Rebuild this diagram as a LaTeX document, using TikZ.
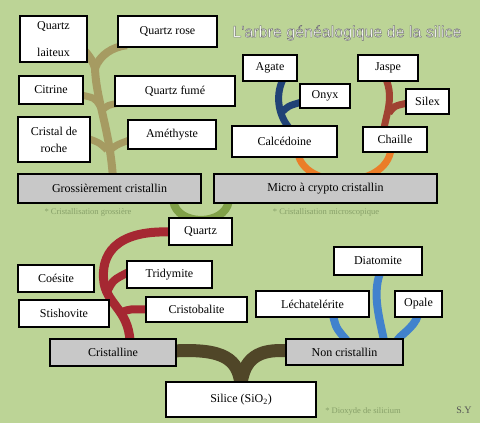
\documentclass[tikz,border=0pt]{standalone}
\usepackage{fontspec}
\setmainfont{Liberation Serif}
\newfontfamily\titlefont{Liberation Sans}
\definecolor{bgcol}{RGB}{188,212,150}
\definecolor{boxgray}{RGB}{200,200,200}
\definecolor{olivebr}{RGB}{166,155,98}
\definecolor{greenbr}{RGB}{128,160,72}
\definecolor{navybr}{RGB}{32,66,118}
\definecolor{redbr}{RGB}{160,66,50}
\definecolor{orangebr}{RGB}{235,125,40}
\definecolor{crimsonbr}{RGB}{165,40,50}
\definecolor{brownbr}{RGB}{80,70,40}
\definecolor{bluebr}{RGB}{65,130,205}
\definecolor{notecol}{RGB}{135,160,105}
\pgfdeclarelayer{bg}
\pgfsetlayers{bg,main}
\newcommand{\outlinedtext}[1]{\special{pdf:code 2 Tr 0.45 w 0.45 0.45 0.45 RG}#1\special{pdf:code 0 Tr}}
\begin{document}
\begin{tikzpicture}[x=1pt,y=-1pt,
  box/.style={draw=black,line width=2.4pt,fill=white,inner sep=0pt,align=center,
    font=\fontsize{12}{14}\selectfont},
  gbox/.style={box,fill=boxgray},
  note/.style={text=notecol,inner sep=0pt,font=\fontsize{8.5}{10}\selectfont},
  br/.style={line width=8pt}]
\useasboundingbox (0,0) rectangle (480,423);

% title
\node[inner sep=0pt,text=white] (title) at (347,33) {\titlefont\fontsize{16}{18}\selectfont\outlinedtext{L'arbre généalogique de la silice}};

% upper left group
\node[box,minimum width=67pt,minimum height=46pt] (qlait) at (53.5,39) {Quartz\\[13pt]laiteux};
\node[box,minimum width=99pt,minimum height=31pt] (qrose) at (167.5,31.5) {Quartz rose};
\node[box,minimum width=64pt,minimum height=28pt] (citrine) at (51,90) {Citrine};
\node[box,minimum width=120pt,minimum height=30pt] (qfume) at (175,91) {Quartz fumé};
\node[box,minimum width=72pt,minimum height=45pt] (cristal) at (54,139.5) {Cristal de\\[3pt]roche};
\node[box,minimum width=88pt,minimum height=29pt] (amethyste) at (172,134.5) {Améthyste};
\node[gbox,minimum width=183pt,minimum height=29pt] (gross) at (109.5,188.5) {Grossièrement cristallin};
\node[note] (n1) at (88,212) {* Cristallisation grossière};

% upper right group
\node[box,minimum width=54pt,minimum height=26pt] (agate) at (270,68) {Agate};
\node[box,minimum width=50pt,minimum height=24pt] (onyx) at (325,96) {Onyx};
\node[box,minimum width=60pt,minimum height=26pt] (jaspe) at (388,68) {Jaspe};
\node[box,minimum width=43pt,minimum height=25pt] (silex) at (427.5,101.5) {Silex};
\node[box,minimum width=105pt,minimum height=31pt] (calc) at (284.5,141.5) {Calcédoine};
\node[box,minimum width=64pt,minimum height=25pt] (chaille) at (395,139.5) {Chaille};
\node[gbox,minimum width=223pt,minimum height=29pt] (micro) at (325.5,188.5) {Micro à crypto cristallin};
\node[note] (n2) at (326,212) {* Cristallisation microscopique};

% lower group
\node[box,minimum width=63pt,minimum height=27pt] (quartz) at (200.5,231.5) {Quartz};
\node[box,minimum width=76pt,minimum height=27pt] (coesite) at (56,278.5) {Coésite};
\node[box,minimum width=85pt,minimum height=27pt] (tridymite) at (169.5,274.5) {Tridymite};
\node[box,minimum width=90pt,minimum height=27pt] (stishovite) at (64,313.5) {Stishovite};
\node[box,minimum width=101pt,minimum height=25pt] (cristobalite) at (196.5,309.5) {Cristobalite};
\node[gbox,minimum width=126pt,minimum height=27pt] (cristalline) at (113,352.5) {Cristalline};
\node[box,minimum width=150pt,minimum height=35pt] (silice) at (241,399.5) {Silice (SiO\textsubscript{2})};
\node[box,minimum width=88pt,minimum height=28pt] (diatomite) at (378,261) {Diatomite};
\node[box,minimum width=113pt,minimum height=26pt] (lechat) at (312.5,304) {Léchatelérite};
\node[box,minimum width=47pt,minimum height=26pt] (opale) at (418.5,304) {Opale};
\node[gbox,minimum width=117pt,minimum height=26pt] (noncrist) at (344.5,352) {Non cristallin};
\node[note] (n3) at (363,411) {* Dioxyde de silicium};
\node[inner sep=0pt,text={rgb,255:red,85;green,85;blue,85},font=\fontsize{10}{12}\selectfont] (sy) at (464,410) {S.Y};

\begin{pgfonlayer}{bg}
\fill[bgcol] (0,0) rectangle (480,423);
% olive tree
\coordinate (oj) at (95,68);
\draw[br,olivebr] ([shift={(3.5,6)}]gross.north) .. controls (110,130) and (96,100) .. (oj);
\draw[br,olivebr] (oj) .. controls (92,60) .. ([shift={(-3,-12)}]qlait.south east);
\draw[br,olivebr] (oj) .. controls (100,55) and (112,47) .. ([shift={(10,-3)}]qrose.south west);
\coordinate (oc) at (100,106);
\coordinate (of) at (101,111);
\coordinate (ocr) at (107,150);
\coordinate (oa) at (108,152);
\draw[br,line width=7pt,olivebr] (oc) .. controls (95,98) .. ([shift={(-3,5)}]citrine.east);
\draw[br,line width=7pt,olivebr] (of) .. controls (108,105) .. ([shift={(5,-4)}]qfume.south west);
\draw[br,line width=7pt,olivebr] (ocr) .. controls (100,143) .. ([shift={(-3,-1)}]cristal.east);
\draw[br,line width=7pt,olivebr] (oa) .. controls (116,145) .. ([shift={(4,5)}]amethyste.west);

% green U
\draw[br,greenbr] ([shift={(-29,-3)}]gross.south east) .. controls +(4,25) and +(-4,25) .. ([shift={(16,-3)}]micro.south west);

% navy tree
\coordinate (nj) at (281,113);
\draw[br,line width=7pt,navybr] ([shift={(13,-3)}]agate.south) .. controls (274,98) and (280,118) .. ([shift={(5.5,4)}]calc.north);
\draw[br,line width=7pt,navybr] (nj) .. controls (288,106) .. ([shift={(3,6)}]onyx.west);

% red tree
\coordinate (rj) at (389,113);
\draw[br,line width=7pt,redbr] ([shift={(-2,-3)}]jaspe.south) .. controls (394,98) and (386,115) .. ([shift={(-11,3)}]chaille.north);
\draw[br,line width=7pt,redbr] (rj) .. controls (394,106) .. ([shift={(3,1.5)}]silex.west);

% orange U
\draw[br,line width=7pt,orangebr] ([shift={(13.5,-5)}]calc.south) .. controls (304,190) and (386,190) .. ([shift={(-4,-4)}]chaille.south);

% crimson tree
\coordinate (cj) at (104,283);
\coordinate (ct) at (107,292);
\coordinate (cc) at (122,312);
\draw[br,line width=9pt,crimsonbr] ([shift={(3,0.5)}]quartz.west) .. controls (115,230) and (100,255) .. (cj)
  .. controls (108,305) and (128,310) .. ([shift={(17,3)}]cristalline.north);
\draw[br,line width=8pt,crimsonbr] (ct) .. controls (113,280) .. ([shift={(3,-2.5)}]tridymite.west);
\draw[br,line width=8pt,crimsonbr] (cc) .. controls (130,309) .. ([shift={(4,0)}]cristobalite.west);

% brown Y
\coordinate (bj) at (241,384);
\draw[br,line width=13pt,brownbr] ([shift={(-4,-1.5)}]cristalline.east) .. controls (225,348) and (238,360) .. (bj);
\draw[br,line width=13pt,brownbr] ([shift={(4,-1)}]noncrist.west) .. controls (257,348) and (244,360) .. (bj);

% blue tree
\draw[br,bluebr] ([shift={(20.5,-3)}]lechat.south) .. controls (336,328) .. ([shift={(2.5,3)}]noncrist.north);
\draw[br,bluebr] ([shift={(2,-3)}]diatomite.south) .. controls (372,295) and (380,320) .. ([shift={(39.5,3)}]noncrist.north);
\draw[br,bluebr] ([shift={(-0.5,-3)}]opale.south) .. controls (414,328) and (400,335) .. ([shift={(52.5,3)}]noncrist.north);
\end{pgfonlayer}
\end{tikzpicture}
\end{document}
